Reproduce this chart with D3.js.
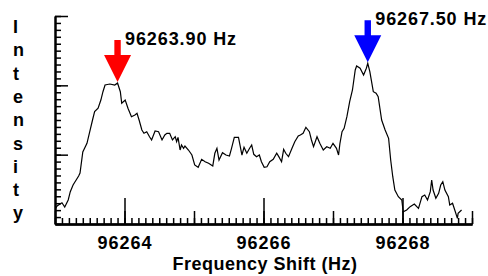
<!DOCTYPE html>
<html>
<head>
<meta charset="utf-8">
<script src="https://cdn.jsdelivr.net/npm/d3@7"></script>
<style>
  body { margin: 0; background: #fff; }
  svg { display: block; }
  text { font-family: "Liberation Sans", Arial, sans-serif; font-weight: bold; fill: #000; }
</style>
</head>
<body>
<svg id="chart"></svg>
<script>
// spectrum
const freq = [
  96263.01, 96263.03, 96263.10, 96263.14, 96263.19, 96263.22, 96263.26, 96263.34, 96263.36, 96263.40,
  96263.46, 96263.50, 96263.54, 96263.57, 96263.62, 96263.66, 96263.69, 96263.72, 96263.79, 96263.86,
  96263.90, 96263.94, 96263.96, 96264.01, 96264.05, 96264.10, 96264.15, 96264.18, 96264.21, 96264.25,
  96264.28, 96264.32, 96264.36, 96264.39, 96264.44, 96264.49, 96264.54, 96264.58, 96264.61, 96264.65,
  96264.69, 96264.73, 96264.75, 96264.77, 96264.80, 96264.82, 96264.85, 96264.87, 96264.92, 96264.97,
  96265.01, 96265.06, 96265.11, 96265.16, 96265.21, 96265.27, 96265.30, 96265.33, 96265.36, 96265.41,
  96265.46, 96265.51, 96265.54, 96265.58, 96265.64, 96265.69, 96265.72, 96265.76, 96265.80, 96265.83,
  96265.86, 96265.90, 96265.94, 96265.97, 96266.01, 96266.05, 96266.09, 96266.14, 96266.19, 96266.22,
  96266.26, 96266.29, 96266.32, 96266.36, 96266.41, 96266.45, 96266.50, 96266.53, 96266.57, 96266.61,
  96266.66, 96266.69, 96266.72, 96266.77, 96266.81, 96266.86, 96266.91, 96266.96, 96267.00, 96267.05,
  96267.08, 96267.10, 96267.13, 96267.16, 96267.20, 96267.24, 96267.28, 96267.32, 96267.34, 96267.39,
  96267.44, 96267.48, 96267.50, 96267.53, 96267.58, 96267.62, 96267.65, 96267.70, 96267.75, 96267.80,
  96267.83, 96267.86, 96267.89, 96267.94, 96267.99, 96268.01, 96268.06, 96268.11, 96268.17, 96268.23,
  96268.28, 96268.32, 96268.36, 96268.40, 96268.42, 96268.44, 96268.48, 96268.52, 96268.55, 96268.58,
  96268.61, 96268.66, 96268.68, 96268.72, 96268.76, 96268.79, 96268.80, 96268.85
]
const intensity = [
  2.3, 2.6, 3.07, 2.45, 3.46, 4.66, 5.62, 6.92, 7.36, 10.38,
  11.64, 13.31, 15.0, 16.2, 16.69, 17.88, 19.08, 20.05, 20.19, 20.05,
  20.34, 19.08, 17.41, 17.88, 16.69, 15.48, 15.72, 15.97, 15.0, 13.56,
  13.08, 13.31, 12.59, 12.12, 13.41, 13.31, 12.12, 12.84, 13.08, 13.08,
  12.12, 12.59, 11.87, 12.5, 10.67, 11.39, 10.92, 11.25, 10.67, 9.95,
  8.51, 8.18, 9.33, 8.99, 8.75, 8.37, 10.2, 10.92, 9.23, 10.28,
  9.95, 9.81, 10.92, 12.5, 12.5, 9.95, 11.06, 10.2, 10.92, 11.39,
  10.05, 9.71, 9.95, 8.99, 8.18, 8.26, 8.99, 9.33, 10.2, 9.71,
  8.99, 10.77, 10.2, 9.71, 10.92, 11.87, 12.69, 12.84, 13.08, 13.95,
  13.31, 12.12, 11.15, 12.59, 11.64, 10.67, 11.15, 10.92, 11.64, 10.92,
  9.95, 11.64, 13.31, 13.8, 15.48, 17.64, 19.33, 22.21, 22.79, 22.46,
  21.49, 22.46, 23.18, 21.97, 19.08, 18.85, 18.36, 15.0, 13.56, 12.36,
  9.23, 6.82, 4.9, 3.94, 3.46, 1.77, 2.02, 2.5, 2.88, 2.26,
  3.94, 4.18, 3.46, 4.66, 6.35, 4.9, 3.71, 4.43, 5.62, 6.1,
  4.9, 3.94, 2.74, 2.99, 1.77, 0.82, 1.54, 2.02
]

const peakFreq = [96263.90, 96267.50]
const peakIntensity = [20.34, 23.18]
const peakLabels = ['96263.90 Hz', '96267.50 Hz']
const peakColors = ['#ff0000', '#0000ff']

const xLabels = [96264, 96266, 96268]
const yLetters = ['I', 'n', 't', 'e', 'n', 's', 'i', 't', 'y']

const W = 488, H = 276
const svg = d3.select('#chart').attr('width', W).attr('height', H)

const x = d3.scaleLinear().domain([96263, 96269]).range([55, 472])
const y = d3.scaleLinear().domain([0, 30]).range([224, 16])

// x axis: minor every 0.1, medium every 1, long every 2 (labelled)
const minorX = d3.range(0, 61).map(i => 96263 + i / 10)
const midX = d3.range(96263, 96270)

svg.append('g')
    .attr('transform', 'translate(0,224)')
    .call(d3.axisBottom(x).tickValues(minorX).tickSize(-6).tickSizeOuter(0).tickFormat(''))
svg.append('g')
    .attr('transform', 'translate(0,224)')
    .call(d3.axisBottom(x).tickValues(midX).tickSize(-13).tickSizeOuter(0).tickFormat(''))
const xl = svg.append('g')
    .attr('transform', 'translate(0,224)')
    .call(d3.axisBottom(x).tickValues(xLabels).tickSize(-26).tickSizeOuter(0).tickPadding(12).tickFormat(d3.format('d')))
xl.selectAll('text')
    .style('font-size', '18px')
    .style('letter-spacing', '1px')
    .attr('fill', '#000')

// y axis: minor every 1, major every 10
svg.append('g')
    .attr('transform', 'translate(55,0)')
    .call(d3.axisLeft(y).tickValues(d3.range(0, 31)).tickSize(-6).tickSizeOuter(0).tickFormat(''))
svg.append('g')
    .attr('transform', 'translate(55,0)')
    .call(d3.axisLeft(y).tickValues([10, 20, 30]).tickSize(-13).tickSizeOuter(0).tickFormat(''))

svg.selectAll('.domain').attr('stroke', '#000').attr('stroke-width', 2)
svg.selectAll('.tick line').attr('stroke', '#000').attr('stroke-width', 1.5)

// spectrum line
const pts = freq.map((f, i) => [f, intensity[i]])
svg.append('path')
    .datum(pts)
    .attr('fill', 'none')
    .attr('stroke', '#000')
    .attr('stroke-width', 1.2)
    .attr('d', d3.line().x(d => x(d[0])).y(d => y(d[1])))

// arrows marking the peaks
peakFreq.forEach((f, i) => {
    const tx = x(f), ty = y(peakIntensity[i]) - 1
    const p = d3.path()
    p.moveTo(tx, ty)
    p.lineTo(tx - 13.5, ty - 27)
    p.lineTo(tx - 3.2, ty - 27)
    p.lineTo(tx - 3.2, ty - 42)
    p.lineTo(tx + 3.2, ty - 42)
    p.lineTo(tx + 3.2, ty - 27)
    p.lineTo(tx + 13.5, ty - 27)
    p.closePath()
    svg.append('path').attr('d', p.toString()).attr('fill', peakColors[i])

    svg.append('text')
        .attr('x', tx + 7.5)
        .attr('y', ty - 37)
        .style('font-size', '18px')
        .style('letter-spacing', '0.9px')
        .text(peakLabels[i])
})

// axis titles
svg.append('text')
    .attr('x', 265)
    .attr('y', 270)
    .attr('text-anchor', 'middle')
    .style('font-size', '18px')
    .style('letter-spacing', '0.5px')
    .text('Frequency Shift (Hz)')

svg.selectAll('.ylet')
    .data(yLetters)
    .enter()
    .append('text')
    .attr('class', 'ylet')
    .attr('x', 13)
    .attr('y', (d, i) => 33 + i * 23.3)
    .style('font-size', '18px')
    .text(d => d)
</script>
</body>
</html>
